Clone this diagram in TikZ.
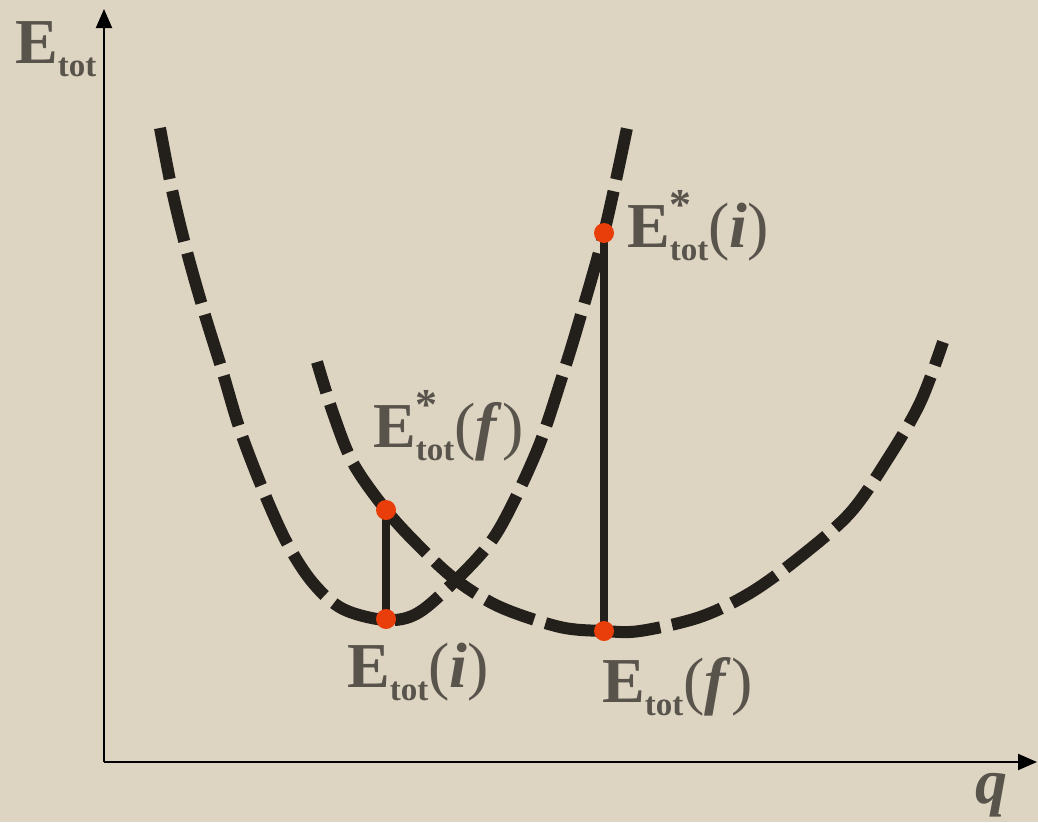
\documentclass[tikz,border=0pt]{standalone}
\usepackage{fontspec}
\setmainfont{Liberation Serif}
\usetikzlibrary{arrows.meta}
\definecolor{paper}{RGB}{222,212,194}
\definecolor{ink}{RGB}{35,31,27}
\definecolor{txt}{RGB}{88,84,76}
\definecolor{dotred}{RGB}{234,62,10}
\newcommand{\bigf}{\fontsize{64}{64}\selectfont}
\newcommand{\subf}{\fontsize{33}{33}\selectfont}
\newcommand{\starf}{\fontsize{44}{44}\selectfont}
\newcommand{\Etotlab}{{\bigf E}\raisebox{-13pt}{\subf tot}}
\newcommand{\Estarlab}{{\bigf E}\rlap{\raisebox{28pt}{\starf *}}\raisebox{-13pt}{\subf tot}}
\newcommand{\argof}[1]{{\bigf\mdseries(\textbf{\textit{#1}})}}
\begin{document}
\begin{tikzpicture}[x=1pt,y=-1pt,
 curve/.style={line width=12pt, draw=ink, dash pattern=on 52pt off 12pt},
 axis/.style={line width=2pt, draw=black, -{Triangle[length=19pt,width=16pt]}},
 level/.style={line width=8pt, draw=ink},
 dot/.style={circle, fill=dotred, minimum size=20pt, inner sep=0pt},
 lab/.style={anchor=base west, inner sep=0pt, text=txt, font=\bfseries}]
\fill[paper] (0,0) rectangle (1038,822);
\useasboundingbox (0,0) rectangle (1038,822);
% axes
\coordinate (O) at (104,762);
\coordinate (ytip) at (104,9);
\coordinate (xtip) at (1037,762);
\draw[axis] (O) -- (ytip);
\draw[axis] (O) -- (xtip);
% curves
\draw[curve] plot[smooth, tension=0.55] coordinates {(160,128) (172,190) (187,252) (204,312) (222,370) (240,430) (263,490) (287,543) (313,583) (343,609) (386,620) (418,613) (456,580) (490,543) (513,503) (540,443) (562,377) (578,325) (604,233) (627,128)};
\draw[curve, dash phase=20pt] plot[smooth, tension=0.55] coordinates {(317,362) (333,413) (353,463) (386,510) (420,547) (456,580) (500,607) (560,627) (604,631) (640,631) (700,617) (750,593) (800,557) (850,513) (887,460) (920,403) (943,342)};
% levels
\coordinate (pi) at (386,619);
\coordinate (psf) at (386,510);
\coordinate (pf) at (604,631);
\coordinate (psi) at (604,233);
\draw[level] (pi) -- (psf);
\draw[level] (pf) -- (psi);
\node[dot] (di) at (pi) {};
\node[dot] (dsf) at (psf) {};
\node[dot] (df) at (pf) {};
\node[dot] (dsi) at (psi) {};
% labels
\node[lab] (ly) at (15,63) {\Etotlab};
\node[lab] (lq) at (975,803) {\bigf\itshape q};
\node[lab] (lsi) at (627,247) {\Estarlab\argof{i}};
\node[lab] (lsf) at (373,447) {\Estarlab\argof{f}};
\node[lab] (li) at (347,687) {\Etotlab\argof{i}};
\node[lab] (lf) at (602,702) {\Etotlab\argof{f}};
\end{tikzpicture}
\end{document}
